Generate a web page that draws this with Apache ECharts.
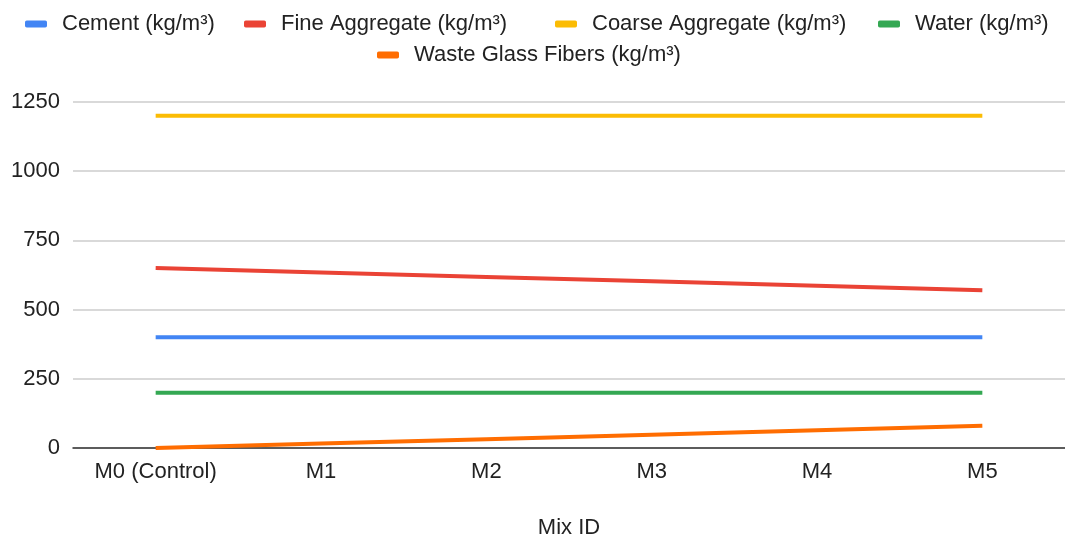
<!DOCTYPE html>
<html>
<head>
<meta charset="utf-8">
<script src="https://cdn.jsdelivr.net/npm/echarts@6/dist/echarts.min.js"></script>
<style>html,body{margin:0;padding:0;background:#fff;overflow:hidden}#c{width:1065px;height:544px}</style>
</head>
<body>
<div id="c"></div>
<script>
const categories = ['M0 (Control)', 'M1', 'M2', 'M3', 'M4', 'M5'];
const cement = [400, 400, 400, 400, 400, 400];
const fineAggregate = [650, 634, 618, 602, 586, 570];
const coarseAggregate = [1200, 1200, 1200, 1200, 1200, 1200];
const water = [200, 200, 200, 200, 200, 200];
const glassFibers = [0, 16, 32, 48, 64, 80];
const seriesNames = ['Cement (kg/m³)', 'Fine Aggregate (kg/m³)', 'Coarse Aggregate (kg/m³)', 'Water (kg/m³)', 'Waste Glass Fibers (kg/m³)'];
const colors = ['#4285F4', '#EA4335', '#FBBC04', '#34A853', '#FF6D01'];
const yTicks = { min: 0, max: 1250, interval: 250 };

const font = 'Arial, "Liberation Sans", sans-serif';
const fs = 22;
const chart = echarts.init(document.getElementById('c'));
const legendPos = [[25, 13], [244, 13], [555, 13], [878, 13], [377, 44]];
const legends = seriesNames.map((n, i) => ({
  data: [n], left: legendPos[i][0], top: legendPos[i][1], padding: 0,
  icon: 'roundRect', itemWidth: 22, itemHeight: 7, itemGap: 0,
  textStyle: { fontFamily: font, fontSize: fs, color: '#222', padding: [0, 0, 0, 10] }
}));
const datas = [cement, fineAggregate, coarseAggregate, water, glassFibers];
chart.setOption({
  color: colors,
  animation: false,
  legend: legends,
  grid: { left: 73, top: 102, width: 1006, height: 355.5, containLabel: false },
  xAxis: {
    type: 'category', data: categories, boundaryGap: true,
    name: 'Mix ID', nameLocation: 'middle', nameGap: 69,
    nameTextStyle: { fontFamily: font, fontSize: fs, color: '#222' },
    axisTick: { show: false },
    axisLine: { lineStyle: { color: '#333', width: 1.5 } },
    axisLabel: { fontFamily: font, fontSize: fs, color: '#222', margin: 13 }
  },
  yAxis: {
    type: 'value', min: yTicks.min, max: yTicks.max, interval: yTicks.interval,
    axisLine: { show: false }, axisTick: { show: false },
    splitLine: { lineStyle: { color: '#ccc', width: 1.5 } },
    axisLabel: { fontFamily: font, fontSize: fs, color: '#222', margin: 13, formatter: v => String(v) }
  },
  series: seriesNames.map((n, i) => ({
    name: n, type: 'line', data: datas[i], showSymbol: false, symbol: 'none',
    lineStyle: { width: 4, color: colors[i] }, itemStyle: { color: colors[i] }
  }))
});
</script>
</body>
</html>
